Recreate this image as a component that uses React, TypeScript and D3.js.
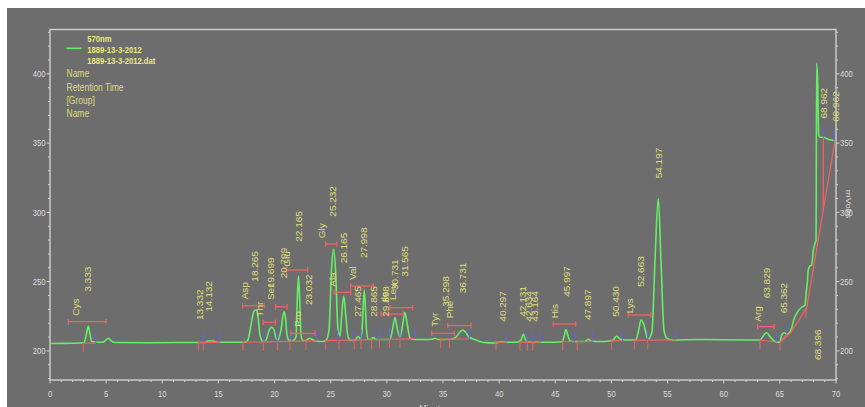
import React from 'react';
import * as d3 from 'd3';

// Detector trace at 570 nm: retention time (min) and signal (mV)
const traceTime = [
  0, 1.78, 2.67, 3.03, 3.21, 3.41, 3.56, 3.71, 4.01, 4.72,
  4.99, 5.19, 5.43, 5.7, 8.91, 13.36, 13.89, 13.98, 14.61, 14.78,
  17.37, 17.63, 17.9, 18.17, 18.35, 18.52, 18.7, 18.97, 19.24, 19.5,
  19.74, 19.95, 20.13, 20.3, 20.57, 20.84, 20.97, 21.11, 21.28, 21.64,
  21.91, 22.02, 22.13, 22.24, 22.35, 22.53, 22.8, 22.98, 23.15, 23.33,
  23.69, 24.22, 24.58, 24.85, 25.07, 25.25, 25.43, 25.65, 25.83, 25.96,
  26.16, 26.36, 26.54, 26.81, 27.16, 27.46, 27.65, 27.79, 27.99, 28.19,
  28.32, 28.59, 28.79, 29.03, 29.83, 30.28, 30.5, 30.72, 30.95, 31.17,
  31.39, 31.61, 31.84, 32.06, 32.42, 33.4, 34.02, 34.29, 34.55, 35.62,
  36.16, 36.51, 36.75, 37.0, 37.31, 37.58, 37.94, 38.47, 39.63, 39.99,
  40.23, 40.52, 41.68, 41.95, 42.15, 42.35, 42.57, 43.64, 44.97, 45.6,
  45.82, 45.95, 46.11, 46.31, 46.67, 47.65, 47.94, 48.18, 48.98, 49.87,
  50.14, 50.47, 50.76, 51.21, 52.19, 52.37, 52.64, 52.9, 53.17, 53.3,
  53.61, 53.88, 54.17, 54.41, 54.68, 54.95, 55.4, 57.89, 61.89, 63.23,
  63.52, 63.82, 64.12, 64.57, 65.01, 65.16, 65.37, 65.66, 66.05, 66.19,
  66.5, 66.94, 67.24, 67.33, 67.44, 67.53, 67.68, 67.83, 67.98, 68.13,
  68.22, 68.28, 68.37, 68.46, 68.57, 68.87, 69.31, 69.91,
];
const traceMv = [
  205.4, 205.5, 205.7, 206.1, 210.8, 218.0, 212.2, 206.8, 206.4, 206.2,
  207.9, 209.1, 207.2, 206.1, 205.9, 206.1, 206.1, 207.2, 207.2, 206.2,
  206.2, 207.9, 218.7, 228.8, 229.5, 225.2, 211.5, 206.8, 207.9, 214.4,
  217.3, 215.1, 209.3, 207.9, 215.1, 228.4, 223.8, 211.5, 207.9, 207.5,
  210.0, 236.7, 254.1, 236.7, 211.5, 207.5, 207.5, 208.6, 209.1, 208.2,
  207.2, 206.8, 207.5, 215.1, 258.4, 273.6, 258.4, 215.1, 210.8, 223.8,
  239.6, 223.8, 210.0, 207.5, 207.9, 210.4, 208.6, 215.1, 244.0, 215.1,
  208.6, 208.2, 209.7, 208.2, 208.2, 208.6, 215.1, 224.1, 215.1, 210.0,
  218.0, 227.7, 218.0, 209.3, 208.2, 208.2, 208.4, 209.1, 208.2, 208.4,
  210.0, 213.6, 215.1, 213.6, 210.0, 209.0, 207.9, 206.3, 205.7, 206.3,
  206.8, 206.2, 206.4, 207.9, 212.2, 207.9, 206.4, 206.2, 206.3, 206.6,
  211.5, 215.5, 211.5, 207.2, 206.8, 206.8, 208.4, 207.2, 206.8, 207.2,
  207.9, 210.6, 208.6, 207.9, 207.9, 212.9, 222.3, 218.7, 210.0, 208.6,
  213.6, 265.6, 310.0, 265.6, 215.1, 209.0, 207.9, 208.2, 207.9, 207.9,
  210.8, 213.1, 210.3, 206.8, 206.2, 211.5, 213.1, 212.2, 216.3, 221.1,
  227.1, 231.5, 233.1, 240.4, 248.8, 258.4, 261.3, 262.0, 272.8, 277.7,
  280.1, 407.6, 393.4, 355.8, 354.2, 354.2, 352.7, 351.7,
];

// Underlying detector baseline used for peak integration
const baselineTime = [0, 13, 17, 21, 24.5, 28, 32.5, 34.5, 37.6, 38.5, 44, 48, 52, 56, 63, 65.01, 65.61];
const baselineMv = [205.4, 206.1, 206.3, 206.8, 207.4, 208.0, 208.8, 208.4, 208.6, 206.3, 206.4, 206.9, 207.6, 208.0, 207.9, 206.2, 212.2];

// Gradient drift baseline at the end of the run
const driftTime = [65.01, 66.0, 67.39, 69.91];
const driftMv = [206.2, 213.5, 231.0, 351.7];
const dropTime = 68.87;
const dropTop = 354.2;

// Retention-time annotations and the signal level where each one starts
const rtLabels = [
  '3.333', '13.332', '14.132', '18.265', '19.699', '20.799', '22.165', '23.032',
  '25.232', '26.165', '27.465', '27.998', '28.865', '29.898', '30.731', '31.565',
  '35.298', '36.731', '40.297', '42.131', '42.634', '43.164', '45.997', '47.897',
  '50.430', '52.663', '54.197', '63.829', '65.362', '68.396', '68.962', '69.962',
];
const rtLevels = [
  242.7, 222.3, 228.3, 250.0, 245.4, 252.4, 278.8, 233.1,
  296.9, 263.2, 224.7, 267.0, 224.7, 224.7, 244.0, 253.6,
  231.9, 241.6, 221.1, 224.7, 221.1, 221.1, 239.1, 222.3,
  224.7, 246.3, 324.6, 238.0, 227.1, 193.4, 367.8, 365.4,
];

// Named components
const peakNames = ['Cys', 'Asp', 'Thr', 'Ser', 'Glu', 'Pro', 'Gly', 'Ala', 'Val', 'Ile', 'Leu', 'Tyr', 'Phe', 'His', 'Lys', 'Arg'];
const nameTimes = [2.32, 17.37, 18.7, 19.68, 21.13, 22.11, 24.2, 25.18, 27.01, 29.83, 30.55, 34.29, 35.62, 44.97, 51.65, 63.05];
const nameLevels = [225.4, 237.2, 224.7, 236.7, 260.8, 217.5, 281.3, 246.3, 251.2, 235.3, 236.7, 217.5, 223.5, 223.5, 227.1, 221.1];

// Expected retention windows
const windowStart = [1.63, 17.16, 19.0, 20.1, 21.02, 21.46, 24.55, 25.29, 26.78, 29.48, 30.28, 33.99, 35.42, 44.82, 51.5, 63.02];
const windowEnd = [4.99, 19.08, 20.08, 21.11, 22.95, 23.6, 25.53, 26.78, 28.79, 31.46, 32.3, 36.01, 37.49, 46.82, 53.5, 64.48];
const windowLevel = [221.1, 232.6, 220.6, 231.9, 258.4, 212.7, 277.2, 242.3, 246.8, 226.6, 231.2, 212.7, 218.3, 219.4, 225.9, 217.5];

// Integration event marks
const peakStarts = [
  2.97, 13.21, 13.65, 17.19, 19.0, 20.26, 21.37, 22.8, 24.55, 25.74, 27.1, 27.7, 28.65, 29.33, 30.22,
  31.17, 34.79, 35.56, 39.72, 41.86, 42.51, 42.99, 45.66, 46.96, 50.02, 52.04, 53.23, 63.23, 65.01, 67.33,
];
const peakEnds = [
  4.07, 13.65, 15.08, 19.06, 20.24, 21.52, 23.75, 25.62, 27.07, 27.7, 29.33, 30.22, 31.17, 32.51, 35.62,
  37.34, 40.67, 42.51, 42.99, 43.7, 46.75, 48.29, 51.0, 53.23, 55.72, 64.72, 65.61, 68.87, 69.82,
];

// Drawn baselines under the integrated peaks
const baseFrom = [
  2.97, 13.21, 17.19, 19.0, 20.26, 21.37, 24.55, 25.74, 27.1, 27.7, 28.65, 29.33, 30.22, 31.17,
  34.79, 35.56, 39.72, 41.86, 42.51, 42.99, 45.66, 46.96, 50.02, 52.04, 53.23, 63.23, 65.01,
];
const baseTo = [
  4.07, 15.08, 19.06, 20.24, 21.52, 23.75, 25.62, 27.07, 27.7, 28.65, 29.33, 30.22, 31.17, 32.51,
  35.62, 37.34, 40.67, 42.51, 42.99, 43.7, 46.75, 48.29, 51.0, 53.23, 55.72, 64.72, 65.61,
];

const xTickLabels = [0, 5, 10, 15, 20, 25, 30, 35, 40, 45, 50, 55, 60, 65, 70];
const yTickLabels = [200, 250, 300, 350, 400];
const legendLines = ['570nm', '1889-13-3-2012', '1889-13-3-2012.dat'];
const legendFields = ['Name', 'Retention Time', '[Group]', 'Name'];

const W = 865;
const H = 407;
const FRAME = { left: 50, right: 836, top: 29.5, bottom: 380 };

const x = d3.scaleLinear().domain([0, 70]).range([FRAME.left, FRAME.right]);
const y = d3.scaleLinear().domain([179, 432]).range([FRAME.bottom, FRAME.top]);

const FONT = "'Liberation Sans', Arial, Helvetica, sans-serif";
const BG = '#6d6d6d';
const GREEN = '#64f064';
const RED = '#f06262';
const BLUE = '#6262f2';
const TEXT = '#dcdc78';
const AXIS = '#d0d0d0';
const AXIS_TEXT = '#dcdcdc';
const SQ = 0.85; // horizontal squeeze applied to text

function interp(ts: number[], vs: number[], t: number): number {
  const i = d3.bisectLeft(ts, t);
  if (i <= 0) return vs[0];
  if (i >= ts.length) return vs[vs.length - 1];
  const t0 = ts[i - 1];
  const t1 = ts[i];
  const f = (t - t0) / (t1 - t0);
  return vs[i - 1] + f * (vs[i] - vs[i - 1]);
}

const lastBase = baselineTime[baselineTime.length - 1];
const signalAt = (t: number) => interp(traceTime, traceMv, t);
const baseAt = (t: number) => interp(baselineTime, baselineMv, t);
const driftAt = (t: number) => interp(driftTime, driftMv, t);
const startLevel = (t: number) => (t <= lastBase ? baseAt(t) : driftAt(t));
const endLevel = (t: number) => (t <= lastBase ? baseAt(t) : signalAt(t));

function HText({ px, py, anchor = 'start', size = 9, weight = 'normal', fill = AXIS_TEXT, children }: any) {
  return (
    <g transform={`translate(${px},${py}) scale(${SQ},1)`}>
      <text x={0} y={0} textAnchor={anchor} fontSize={size} fontWeight={weight} fill={fill} fontFamily={FONT}>
        {children}
      </text>
    </g>
  );
}

function VText({ px, py, children }: any) {
  // reads bottom to top, centred on px
  return (
    <g transform={`translate(${px + 3.1},${py}) scale(${SQ},1) rotate(-90)`}>
      <text x={0} y={0} fontSize={10} fill={TEXT} fontFamily={FONT}>
        {children}
      </text>
    </g>
  );
}

export default function App() {
  const tracePath = d3
    .line<number>()
    .x((_, i) => x(traceTime[i]))
    .y((d) => y(d))
    .curve(d3.curveMonotoneX)(traceMv) as string;

  const driftPath = d3
    .line<number>()
    .x((_, i) => x(driftTime[i]))
    .y((d) => y(d))(driftMv) as string;

  const yMinor = d3.range(180, 431, 10);
  const xMinor = d3.range(0, 71, 1);

  return (
    <svg
      width={W}
      height={H}
      style={{ position: 'absolute', left: 0, top: 0, display: 'block' }}
      xmlns="http://www.w3.org/2000/svg"
    >
      <rect x={7} y={8} width={W - 7} height={H - 8} fill={BG} />

      {/* frame */}
      <rect
        x={FRAME.left}
        y={FRAME.top}
        width={FRAME.right - FRAME.left}
        height={FRAME.bottom - FRAME.top}
        fill="none"
        stroke={AXIS}
        strokeWidth={1.4}
      />

      {/* left and right value axes */}
      {yMinor.map((v) => {
        const major = v % 50 === 0;
        const len = major ? 3.5 : 2;
        return (
          <g key={`yt${v}`}>
            <line x1={FRAME.left - len} x2={FRAME.left} y1={y(v)} y2={y(v)} stroke={AXIS} strokeWidth={1} />
            <line x1={FRAME.right} x2={FRAME.right + len} y1={y(v)} y2={y(v)} stroke={AXIS} strokeWidth={1} />
          </g>
        );
      })}
      {yTickLabels.map((v) => (
        <g key={`yl${v}`}>
          <HText px={45.5} py={y(v) + 3.2} anchor="end">{v}</HText>
          <HText px={840} py={y(v) + 3.2} anchor="start">{v}</HText>
        </g>
      ))}
      <g transform={`translate(845.5,204) scale(${SQ},1) rotate(90)`}>
        <text x={0} y={0} textAnchor="middle" fontSize={9.5} fill={AXIS_TEXT} fontFamily={FONT}>
          mVolts
        </text>
      </g>

      {/* time axis */}
      {xMinor.map((v) => {
        const major = v % 5 === 0;
        return (
          <line
            key={`xt${v}`}
            x1={x(v)}
            x2={x(v)}
            y1={FRAME.bottom}
            y2={FRAME.bottom + (major ? 3.5 : 2)}
            stroke={AXIS}
            strokeWidth={1}
          />
        );
      })}
      {xTickLabels.map((v) => (
        <HText key={`xl${v}`} px={x(v)} py={396.5} anchor="middle">
          {v}
        </HText>
      ))}
      <HText px={x(34.2)} py={412.5} anchor="middle" size={10}>
        Minutes
      </HText>

      {/* legend */}
      <line x1={66.5} x2={81.5} y1={48.3} y2={48.3} stroke={GREEN} strokeWidth={1.6} />
      {legendLines.map((s, i) => (
        <HText key={`lg${i}`} px={87.3} py={41.5 + i * 11.2} size={9} weight="bold" fill="#e8e87c">
          {s}
        </HText>
      ))}
      {legendFields.map((s, i) => (
        <HText key={`lf${i}`} px={66.5} py={77.3 + i * 13.3} size={10} fill={TEXT}>
          {s}
        </HText>
      ))}

      {/* signal */}
      <path d={tracePath} fill="none" stroke={GREEN} strokeWidth={1.6} strokeLinejoin="round" />

      {/* integration baselines */}
      {baseFrom.map((t0, i) => (
        <line
          key={`bl${i}`}
          x1={x(t0)}
          x2={x(baseTo[i])}
          y1={y(baseAt(t0))}
          y2={y(baseAt(baseTo[i]))}
          stroke={RED}
          strokeWidth={1.2}
        />
      ))}
      <path d={driftPath} fill="none" stroke={RED} strokeWidth={1.3} />
      <line x1={x(dropTime)} x2={x(dropTime)} y1={y(dropTop)} y2={y(driftAt(dropTime))} stroke={RED} strokeWidth={1.3} />

      {/* peak start / end marks */}
      {peakStarts.map((t, i) => {
        const py = y(startLevel(t));
        return <line key={`ps${i}`} x1={x(t)} x2={x(t)} y1={py - 1} y2={py + 9} stroke={RED} strokeWidth={1} />;
      })}
      {peakEnds.map((t, i) => {
        const py = y(endLevel(t));
        return <line key={`pe${i}`} x1={x(t)} x2={x(t)} y1={py} y2={py - 10} stroke={BLUE} strokeWidth={1} />;
      })}

      {/* retention windows */}
      {windowStart.map((t0, i) => {
        const py = y(windowLevel[i]);
        const a = x(t0);
        const b = x(windowEnd[i]);
        return (
          <g key={`w${i}`} stroke={RED} strokeWidth={1.3}>
            <line x1={a} x2={b} y1={py} y2={py} />
            <line x1={a} x2={a} y1={py - 2.8} y2={py + 2.8} />
            <line x1={b} x2={b} y1={py - 2.8} y2={py + 2.8} />
          </g>
        );
      })}

      {/* annotations */}
      {peakNames.map((n, i) => (
        <VText key={`n${i}`} px={x(nameTimes[i])} py={y(nameLevels[i])}>
          {n}
        </VText>
      ))}
      {rtLabels.map((s, i) => (
        <VText key={`r${i}`} px={x(parseFloat(s))} py={y(rtLevels[i])}>
          {s}
        </VText>
      ))}
    </svg>
  );
}
